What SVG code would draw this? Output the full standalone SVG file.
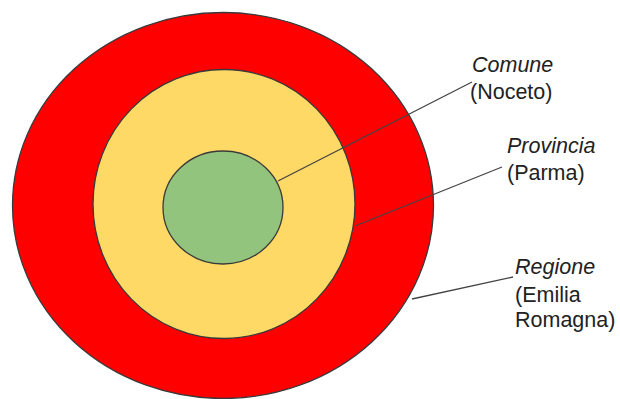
<svg xmlns="http://www.w3.org/2000/svg" width="620" height="399" viewBox="0 0 620 399">
<style>
.ring{stroke:#3a3a3a;stroke-width:1.3}
.lead{stroke:#444;stroke-width:1.3;fill:none}
text{font-family:"Liberation Sans",Arial,sans-serif;font-size:21.5px;fill:#222}
.it{font-style:italic}
</style>
<rect width="620" height="399" fill="#fff"/>
<g id="regione"><ellipse class="ring" cx="223" cy="205.5" rx="210.5" ry="193" fill="#ff0000"/></g>
<g id="provincia"><ellipse class="ring" cx="224" cy="204" rx="131" ry="134.5" fill="#ffd966"/></g>
<g id="connectors">
<line class="lead" x1="278" y1="181" x2="472" y2="82"/>
<line class="lead" x1="355" y1="226" x2="502" y2="167"/>
<line class="lead" x1="412" y1="299" x2="513" y2="277"/>
</g>
<g id="comune"><ellipse class="ring" cx="223" cy="207.5" rx="60" ry="56.5" fill="#93c47d"/></g>
<g id="labels">
<text class="it" x="472" y="72">Comune</text>
<text x="470" y="99">(Noceto)</text>
<text class="it" x="507" y="153">Provincia</text>
<text x="507" y="180">(Parma)</text>
<text class="it" x="515" y="274">Regione</text>
<text x="515" y="302">(Emilia</text>
<text x="515" y="327">Romagna)</text>
</g>
</svg>
